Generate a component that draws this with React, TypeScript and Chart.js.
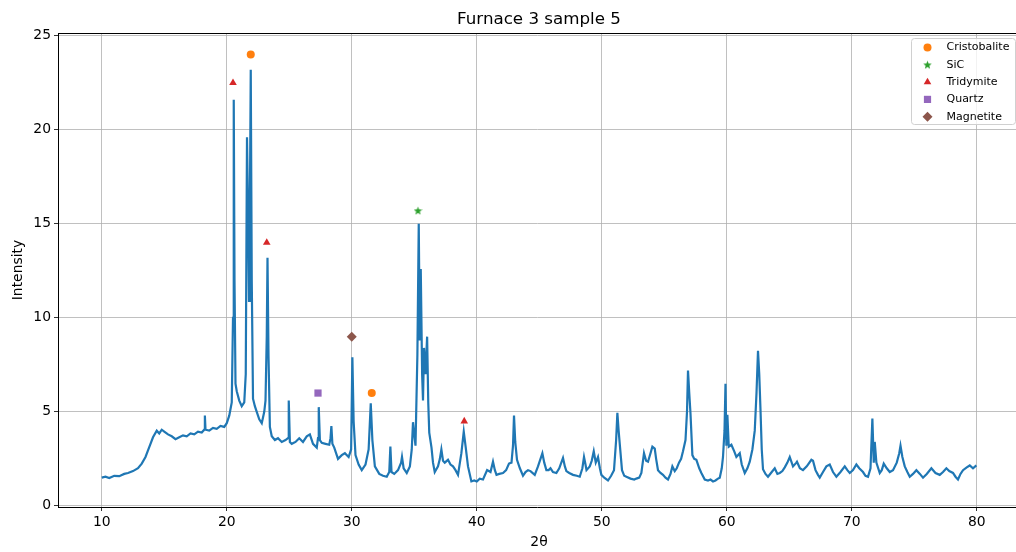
import React, { useEffect, useRef } from "react";
import { Chart, registerables } from "chart.js";

Chart.register(...registerables);

const twoTheta = [
  10.0, 10.3, 10.6, 11.0, 11.4, 11.8, 12.1, 12.5, 12.9, 13.2, 13.5, 13.7, 13.9, 14.1, 14.4, 14.6, 14.8, 15.0, 15.3, 15.6,
  15.9, 16.2, 16.5, 16.8, 17.1, 17.4, 17.7, 18.0, 18.2, 18.25, 18.3, 18.6, 18.9, 19.2, 19.5, 19.8, 20.0, 20.2, 20.4, 20.5,
  20.56, 20.62, 20.7, 20.8, 21.0, 21.2, 21.4, 21.52, 21.62, 21.72, 21.78, 21.85, 21.92, 22.0, 22.1, 22.25, 22.4, 22.6, 22.8, 23.0,
  23.1, 23.2, 23.26, 23.34, 23.45, 23.6, 23.85, 24.1, 24.4, 24.7, 24.9, 24.96, 25.05, 25.2, 25.5, 25.8, 26.1, 26.4, 26.65, 26.9,
  27.2, 27.3, 27.36, 27.45, 27.6, 27.9, 28.2, 28.3, 28.37, 28.45, 28.6, 28.9, 29.2, 29.45, 29.75, 29.95, 30.05, 30.15, 30.3, 30.55,
  30.8, 31.1, 31.35, 31.52, 31.65, 31.85, 32.2, 32.5, 32.8, 33.0, 33.09, 33.18, 33.4, 33.7, 33.95, 34.02, 34.15, 34.4, 34.65, 34.8,
  34.9, 35.0, 35.1, 35.25, 35.36, 35.44, 35.52, 35.63, 35.7, 35.78, 35.9, 36.03, 36.12, 36.2, 36.38, 36.5, 36.64, 36.9, 37.05, 37.17,
  37.3, 37.44, 37.7, 37.9, 38.1, 38.3, 38.5, 38.77, 38.96, 39.1, 39.3, 39.57, 39.8, 40.0, 40.24, 40.5, 40.83, 41.1, 41.3, 41.45,
  41.58, 41.8, 42.1, 42.35, 42.58, 42.78, 42.9, 42.98, 43.08, 43.22, 43.45, 43.7, 43.9, 44.1, 44.3, 44.64, 44.9, 45.1, 45.25, 45.4,
  45.57, 45.75, 45.9, 46.1, 46.37, 46.6, 46.9, 47.05, 47.17, 47.4, 47.7, 48.0, 48.24, 48.45, 48.58, 48.7, 48.78, 49.04, 49.2, 49.36,
  49.52, 49.7, 49.85, 49.97, 50.2, 50.5, 50.75, 50.98, 51.15, 51.25, 51.35, 51.44, 51.62, 51.8, 51.97, 52.3, 52.6, 52.77, 53.0, 53.17,
  53.38, 53.55, 53.7, 53.9, 54.05, 54.24, 54.35, 54.5, 54.7, 54.9, 55.1, 55.3, 55.5, 55.65, 55.84, 56.0, 56.18, 56.35, 56.5, 56.7,
  56.82, 56.9, 57.0, 57.1, 57.25, 57.4, 57.57, 57.8, 57.97, 58.24, 58.5, 58.7, 58.9, 59.1, 59.3, 59.44, 59.6, 59.7, 59.82, 59.9,
  59.97, 60.05, 60.16, 60.37, 60.6, 60.77, 61.04, 61.2, 61.44, 61.65, 61.84, 62.05, 62.24, 62.38, 62.5, 62.6, 62.7, 62.8, 62.9, 63.1,
  63.3, 63.6, 63.84, 64.05, 64.24, 64.45, 64.64, 64.85, 65.04, 65.3, 65.57, 65.62, 65.85, 66.1, 66.4, 66.77, 66.9, 67.1, 67.3, 67.44,
  67.7, 67.97, 68.24, 68.5, 68.77, 69.1, 69.44, 69.65, 69.84, 70.1, 70.37, 70.6, 70.9, 71.1, 71.3, 71.5, 71.65, 71.76, 71.84, 71.97,
  72.24, 72.4, 72.56, 72.8, 73.04, 73.3, 73.6, 73.8, 73.9, 74.05, 74.24, 74.45, 74.64, 74.9, 75.17, 75.45, 75.7, 76.0, 76.37, 76.7,
  77.04, 77.3, 77.57, 77.8, 78.1, 78.3, 78.5, 78.7, 78.9, 79.2, 79.44, 79.7, 79.97,
];

const intensity = [
  1.5, 1.55, 1.48, 1.6, 1.58, 1.7, 1.75, 1.85, 2.0, 2.25, 2.6, 2.95, 3.3, 3.65, 4.0, 3.85, 4.05, 3.95, 3.8, 3.7,
  3.55, 3.65, 3.75, 3.7, 3.85, 3.8, 3.95, 3.9, 4.05, 4.8, 4.05, 4.0, 4.15, 4.1, 4.25, 4.2, 4.4, 4.8, 5.5, 10.0,
  21.6, 12.0, 6.5, 6.1, 5.6, 5.3, 5.5, 7.0, 19.6, 15.0, 10.9, 16.0, 23.2, 12.0, 5.7, 5.3, 5.0, 4.6, 4.4, 5.0,
  5.6, 9.0, 13.2, 8.0, 4.2, 3.7, 3.5, 3.6, 3.4, 3.5, 3.6, 5.6, 3.4, 3.3, 3.4, 3.6, 3.4, 3.7, 3.8, 3.3,
  3.1, 3.6, 5.25, 3.5, 3.35, 3.3, 3.25, 3.6, 4.25, 3.3, 3.1, 2.5, 2.7, 2.8, 2.6, 3.0, 7.9, 4.5, 2.7, 2.2,
  1.9, 2.2, 3.0, 5.45, 3.5, 2.1, 1.7, 1.6, 1.55, 1.8, 3.15, 1.8, 1.7, 1.9, 2.3, 2.6, 2.0, 1.75, 2.1, 3.0,
  4.45, 3.8, 3.2, 8.0, 15.0, 8.8, 12.6, 7.0, 5.6, 8.4, 7.0, 9.0, 5.5, 3.9, 3.1, 2.3, 1.8, 2.1, 2.5, 3.0,
  2.4, 2.3, 2.45, 2.2, 2.1, 1.9, 1.65, 2.8, 3.95, 3.2, 2.1, 1.3, 1.35, 1.3, 1.45, 1.4, 1.9, 1.8, 2.35, 1.9,
  1.65, 1.7, 1.75, 1.9, 2.25, 2.3, 3.2, 4.8, 3.4, 2.45, 2.0, 1.6, 1.8, 1.9, 1.85, 1.65, 2.1, 2.5, 2.8, 2.3,
  1.9, 1.9, 2.0, 1.8, 1.75, 2.0, 2.55, 2.1, 1.85, 1.75, 1.65, 1.6, 1.55, 2.0, 2.6, 2.2, 1.9, 2.1, 2.4, 2.9,
  2.3, 2.6, 2.0, 1.65, 1.5, 1.35, 1.6, 1.9, 3.5, 4.95, 4.0, 3.3, 1.9, 1.6, 1.55, 1.45, 1.4, 1.45, 1.5, 1.75,
  2.8, 2.4, 2.35, 2.8, 3.15, 3.05, 2.5, 1.9, 1.75, 1.65, 1.5, 1.4, 1.7, 2.1, 1.85, 2.0, 2.3, 2.5, 2.9, 3.5,
  5.0, 7.2, 6.0, 4.9, 2.7, 2.5, 2.45, 2.0, 1.75, 1.4, 1.35, 1.4, 1.3, 1.35, 1.45, 1.5, 2.0, 2.6, 4.0, 6.5,
  3.2, 4.85, 3.15, 3.25, 2.9, 2.6, 2.8, 2.2, 1.75, 2.0, 2.35, 3.0, 4.0, 6.0, 8.25, 7.0, 5.1, 3.0, 1.95, 1.7,
  1.55, 1.8, 2.0, 1.7, 1.75, 1.85, 2.05, 2.3, 2.6, 2.1, 2.3, 2.35, 2.0, 1.9, 2.1, 2.45, 2.4, 1.9, 1.65, 1.5,
  1.8, 2.1, 2.2, 1.8, 1.55, 1.8, 2.1, 1.9, 1.75, 1.9, 2.2, 2.0, 1.8, 1.6, 1.55, 2.0, 4.65, 2.3, 3.4, 2.3,
  1.75, 1.9, 2.25, 2.0, 1.8, 1.9, 2.3, 2.8, 3.2, 2.6, 2.1, 1.8, 1.55, 1.7, 1.9, 1.7, 1.5, 1.7, 2.0, 1.75,
  1.65, 1.8, 2.0, 1.85, 1.75, 1.55, 1.4, 1.7, 1.9, 2.05, 2.15, 2.0, 2.15,
];

const cristobaliteX = [21.92, 31.6];
const cristobaliteY = [24.0, 6.0];
const sicX = [35.3];
const sicY = [15.7];
const tridymiteX = [20.5, 23.2, 39.0];
const tridymiteY = [22.5, 14.0, 4.5];
const quartzX = [27.3];
const quartzY = [6.0];
const magnetiteX = [30.0];
const magnetiteY = [9.0];

const xTicks = [10, 20, 30, 40, 50, 60, 70, 80];
const yTicks = [0, 5, 10, 15, 20, 25];

const FONT = "'DejaVu Sans', sans-serif";

function makeStar(size: number, color: string) {
  const c = document.createElement("canvas");
  c.width = size;
  c.height = size;
  const ctx = c.getContext("2d")!;
  const cx = size / 2, cy = size / 2 + 0.4, R = size / 2, r = R * 0.42;
  ctx.beginPath();
  for (let i = 0; i < 10; i++) {
    const a = -Math.PI / 2 + (i * Math.PI) / 5;
    const rad = i % 2 === 0 ? R : r;
    ctx.lineTo(cx + rad * Math.cos(a), cy + rad * Math.sin(a));
  }
  ctx.closePath();
  ctx.fillStyle = color;
  ctx.fill();
  return c;
}

function pts(xs: number[], ys: number[]) {
  return xs.map((x, i) => ({ x, y: ys[i] }));
}

export default function App() {
  const ref = useRef<HTMLCanvasElement | null>(null);

  useEffect(() => {
    if (!ref.current) return;
    const star = makeStar(9, "#2ca02c");

    const legendItems = [
      { label: "Cristobalite", style: "circle", color: "#ff7f0e" },
      { label: "SiC", style: "star", color: "#2ca02c" },
      { label: "Tridymite", style: "triangle", color: "#d62728" },
      { label: "Quartz", style: "rect", color: "#9467bd" },
      { label: "Magnetite", style: "rectRot", color: "#8c564b" },
    ];

    const drawMarker = (ctx: CanvasRenderingContext2D, style: string, color: string, x: number, y: number) => {
      ctx.save();
      ctx.fillStyle = color;
      ctx.beginPath();
      if (style === "circle") {
        ctx.arc(x, y, 4, 0, Math.PI * 2);
        ctx.fill();
      } else if (style === "star") {
        ctx.drawImage(star, x - 4.5, y - 4.5);
      } else if (style === "triangle") {
        const r = 4.4;
        ctx.moveTo(x, y - r);
        ctx.lineTo(x + r * Math.sin((2 * Math.PI) / 3), y - r * Math.cos((2 * Math.PI) / 3));
        ctx.lineTo(x + r * Math.sin((4 * Math.PI) / 3), y - r * Math.cos((4 * Math.PI) / 3));
        ctx.closePath();
        ctx.fill();
      } else if (style === "rect") {
        ctx.rect(x - 3.6, y - 3.6, 7.2, 7.2);
        ctx.fill();
      } else {
        const r = 5;
        ctx.moveTo(x, y - r);
        ctx.lineTo(x + r, y);
        ctx.lineTo(x, y + r);
        ctx.lineTo(x - r, y);
        ctx.closePath();
        ctx.fill();
      }
      ctx.restore();
    };

    const decor = {
      id: "decor",
      afterDraw(chart: any) {
        const ctx: CanvasRenderingContext2D = chart.ctx;
        const a = chart.chartArea;
        ctx.save();
        ctx.strokeStyle = "#000";
        ctx.lineWidth = 1;
        ctx.beginPath();
        ctx.moveTo(a.left, a.top + 0.5);
        ctx.lineTo(a.right, a.top + 0.5);
        ctx.stroke();
        ctx.fillStyle = "#000";
        ctx.font = `16.7px ${FONT}`;
        ctx.textAlign = "center";
        ctx.textBaseline = "middle";
        ctx.fillText("Furnace 3 sample 5", 539, 20);
        ctx.font = `13.9px ${FONT}`;
        ctx.fillText("2θ", 539, 542);
        ctx.save();
        ctx.translate(18, 270);
        ctx.rotate(-Math.PI / 2);
        ctx.fillText("Intensity", 0, 0);
        ctx.restore();
        const bx = 911, by = 38, bw = 104, bh = 86;
        ctx.fillStyle = "rgba(255,255,255,0.8)";
        ctx.strokeStyle = "#d0d0d0";
        ctx.lineWidth = 1;
        ctx.beginPath();
        (ctx as any).roundRect(bx + 0.5, by + 0.5, bw, bh, 3);
        ctx.fill();
        ctx.stroke();
        ctx.font = `11px ${FONT}`;
        ctx.textAlign = "left";
        ctx.textBaseline = "middle";
        legendItems.forEach((it, i) => {
          const y = 47.5 + i * 17.3;
          drawMarker(ctx, it.style, it.color, 927.5, y);
          ctx.fillStyle = "#000";
          ctx.fillText(it.label, 946.5, y);
        });
        ctx.restore();
      },
    };

    const tickFont = { family: FONT, size: 13.9 };

    const chart = new Chart(ref.current, {
      type: "line",
      data: {
        datasets: [
          {
            type: "scatter",
            label: "Cristobalite",
            data: pts(cristobaliteX, cristobaliteY),
            pointStyle: "circle",
            pointRadius: 4,
            backgroundColor: "#ff7f0e",
            borderColor: "#ff7f0e",
            borderWidth: 0,
            order: 0,
          },
          {
            type: "scatter",
            label: "SiC",
            data: pts(sicX, sicY),
            pointStyle: star,
            pointRadius: 4.5,
            backgroundColor: "#2ca02c",
            borderColor: "#2ca02c",
            order: 0,
          },
          {
            type: "scatter",
            label: "Tridymite",
            data: pts(tridymiteX, tridymiteY),
            pointStyle: "triangle",
            pointRadius: 4.4,
            backgroundColor: "#d62728",
            borderColor: "#d62728",
            borderWidth: 0,
            order: 0,
          },
          {
            type: "scatter",
            label: "Quartz",
            data: pts(quartzX, quartzY),
            pointStyle: "rect",
            pointRadius: 5.1,
            backgroundColor: "#9467bd",
            borderColor: "#9467bd",
            borderWidth: 0,
            order: 0,
          },
          {
            type: "scatter",
            label: "Magnetite",
            data: pts(magnetiteX, magnetiteY),
            pointStyle: "rectRot",
            pointRadius: 5,
            backgroundColor: "#8c564b",
            borderColor: "#8c564b",
            borderWidth: 0,
            order: 0,
          },
          {
            type: "line",
            label: "Pattern",
            data: pts(twoTheta, intensity),
            borderColor: "#1f77b4",
            borderWidth: 2.2,
            pointRadius: 0,
            tension: 0,
            fill: false,
            order: 1,
          },
        ] as any,
      },
      options: {
        animation: false,
        responsive: false,
        devicePixelRatio: 1,
        layout: { autoPadding: false, padding: { top: 33, left: 0, right: 0, bottom: 0 } },
        plugins: {
          legend: { display: false },
          title: { display: false },
          tooltip: { enabled: false },
        },
        scales: {
          x: {
            type: "linear",
            min: 6.5,
            max: 83.14,
            afterBuildTicks: (s: any) => {
              s.ticks = xTicks.map((v) => ({ value: v }));
            },
            afterFit: (s: any) => {
              s.height = 45;
              s.paddingLeft = 0;
              s.paddingRight = 0;
            },
            ticks: { font: tickFont, color: "#000", padding: 3, maxRotation: 0, autoSkip: false },
            grid: { color: "#b0b0b0", lineWidth: 0.8, tickLength: 4, tickColor: "#000" },
            border: { color: "#000", width: 1 },
          },
          y: {
            type: "linear",
            min: -0.06,
            max: 25.15,
            afterBuildTicks: (s: any) => {
              s.ticks = yTicks.map((v) => ({ value: v }));
            },
            afterFit: (s: any) => {
              s.width = 58;
              s.paddingTop = 0;
              s.paddingBottom = 0;
            },
            ticks: { font: tickFont, color: "#000", padding: 3, autoSkip: false },
            grid: { color: "#b0b0b0", lineWidth: 0.8, tickLength: 4, tickColor: "#000" },
            border: { color: "#000", width: 1 },
          },
        },
      } as any,
      plugins: [decor],
    });
    return () => chart.destroy();
  }, []);

  return (
    <div style={{ position: "fixed", left: 0, top: 0, width: 1016, height: 552, background: "#fff" }}>
      <canvas ref={ref} width={1016} height={552} style={{ width: 1016, height: 552, display: "block" }} />
    </div>
  );
}
